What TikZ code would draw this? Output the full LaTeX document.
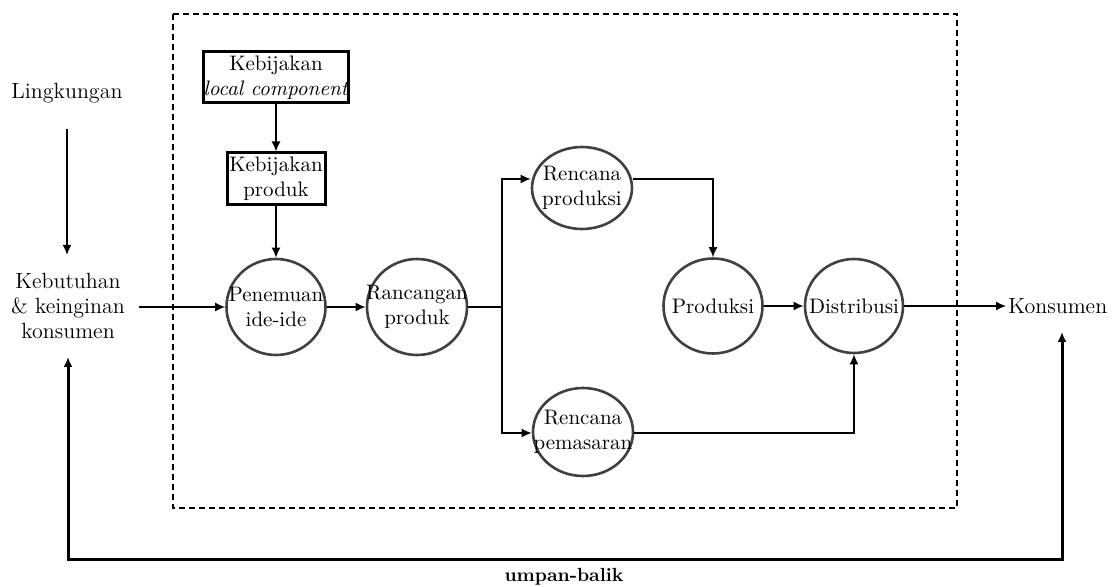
\documentclass[tikz,border=0pt]{standalone}
\usetikzlibrary{shapes.geometric,arrows.meta}
\begin{document}
\begin{tikzpicture}[x=0.5pt,y=-0.5pt,
  proc/.style={ellipse, draw=black!75, line width=1.3pt, inner sep=0pt},
  clab/.style={align=center, font=\fontsize{10.5}{12.5}\selectfont, inner sep=0pt},
  boxn/.style={draw, line width=1.5pt, inner sep=0pt, align=center, font=\fontsize{10.5}{12.5}\selectfont},
  txt/.style={align=center, font=\fontsize{11}{12.5}\selectfont, inner sep=1pt},
  tip/.style={-{Latex[length=5pt,width=4.5pt]}},
  conn/.style={line width=0.75pt, tip},
  plain/.style={line width=0.75pt},
  bold/.style={line width=1.2pt, tip},
  fb/.style={line width=1.5pt, {Latex[length=5pt,width=4.5pt]}-{Latex[length=5pt,width=4.5pt]}},
  frame/.style={line width=0.75pt, dash pattern=on 3pt off 2pt}
]
\useasboundingbox (0,0) rectangle (1120,587);

% dashed system boundary
\draw[frame] (173,14) rectangle (957,508);

% boxes
\node[boxn, minimum width=71.5pt, minimum height=25.5pt] (lc) at (276,77.5) {Kebijakan\\\textit{local component}};
\node[boxn, minimum width=49pt, minimum height=26pt] (kp) at (276,179) {Kebijakan\\produk};

% process ellipses
\node[proc, minimum width=49.5pt, minimum height=48pt, label={[clab]center:Penemuan\\ide-ide}] (pen) at (276,307) {};
\node[proc, minimum width=50pt, minimum height=48pt, label={[clab]center:Rancangan\\produk}] (ran) at (417,307) {};
\node[proc, minimum width=50pt, minimum height=41pt, label={[clab]center:Rencana\\produksi}] (rp) at (582,188) {};
\node[proc, minimum width=50pt, minimum height=44pt, label={[clab]center:Rencana\\pemasaran}] (rm) at (583,432) {};
\node[proc, minimum width=49.5pt, minimum height=47.5pt, label={[clab]center:Produksi}] (prod) at (713,306) {};
\node[proc, minimum width=49pt, minimum height=47pt, label={[clab]center:Distribusi}] (dist) at (854,306) {};

% outside texts
\node[txt] (ling) at (67,93) {Lingkungan};
\node[txt] (keb) at (68,306) {Kebutuhan\\\& keinginan\\konsumen};
\node[txt, anchor=west] (kons) at (1006,306) {Konsumen};
\node[font=\fontsize{9.5}{11}\selectfont\bfseries, inner sep=0pt] (ub) at (564,577) {umpan-balik};

% connectors
\draw[conn] (lc) -- (kp);
\draw[conn] (kp) -- (pen);
\draw[conn, shorten <=12pt, shorten >=8pt] (ling.south) -- (ling.south |- keb.north);
\draw[conn, shorten <=6pt] (keb.east |- pen.west) -- (pen.west);
\draw[bold] (pen) -- (ran);

\coordinate (j) at (502,307);
\coordinate (jt) at (502,179);
\coordinate (jb) at (502,433);
\draw[plain] (ran.east) -- (j);
\draw[conn] (j) -- (jt) -- (jt -| rp.west);
\draw[conn] (j) -- (jb) -- (jb -| rm.west);

\coordinate (rpc) at (prod.north |- jt);
\draw[conn] (rpc -| rp.east) -- (rpc) -- (prod.north);
\draw[bold] (prod) -- (dist);
\coordinate (rmc) at (dist.south |- jb);
\draw[conn] (rmc -| rm.east) -- (rmc) -- (dist.south);
\draw[conn] (dist.east) -- (kons.west);

% feedback loop
\coordinate (fbl) at (68,357);
\coordinate (fbbl) at (68,560);
\coordinate (fbbr) at (1062,560);
\coordinate (fbr) at (1062,332);
\draw[fb] (fbl) -- (fbbl) -- (fbbr) -- (fbr);
\end{tikzpicture}
\end{document}
